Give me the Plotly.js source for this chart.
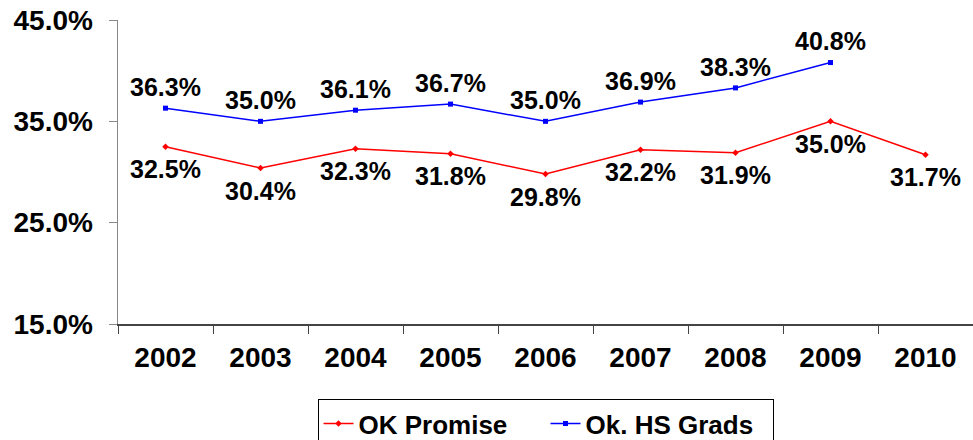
<!DOCTYPE html>
<html>
<head>
<meta charset="utf-8">
<script src="https://cdn.plot.ly/plotly-3.0.1.min.js"></script>
<style>html,body{margin:0;padding:0;background:#fff;}#chart{width:973px;height:440px;}</style>
</head>
<body>
<div id="chart"></div>
<script>
const years = ["2002","2003","2004","2005","2006","2007","2008","2009","2010"];
const okPromise = [32.5, 30.4, 32.3, 31.8, 29.8, 32.2, 31.9, 35.0, 31.7];
const okHSGrads = [36.3, 35.0, 36.1, 36.7, 35.0, 36.9, 38.3, 40.8];
const yTicks = [15, 25, 35, 45];
const yTickLabels = ["15.0%", "25.0%", "35.0%", "45.0%"];

const FONT = "Liberation Sans, Arial, sans-serif";
const hsYears = years.slice(0, okHSGrads.length);

const traces = [
  {
    x: years, y: okPromise, name: "OK Promise", type: "scatter", mode: "lines+markers",
    line: {color: "#ff0000", width: 1.5},
    marker: {color: "#ff0000", size: 5, symbol: "diamond"}
  },
  {
    x: hsYears, y: okHSGrads, name: "Ok. HS Grads", type: "scatter", mode: "lines+markers",
    line: {color: "#0000ff", width: 1.5},
    marker: {color: "#0000ff", size: 5, symbol: "square"}
  },
  {
    x: years, y: okPromise, type: "scatter", mode: "markers+text", showlegend: false, hoverinfo: "skip",
    text: okPromise.map(v => "<b>" + v.toFixed(1) + "%</b>"), textposition: "bottom center",
    marker: {size: 19, color: "rgba(0,0,0,0)"},
    textfont: {family: FONT, size: 25, color: "#000"}
  },
  {
    x: hsYears, y: okHSGrads, type: "scatter", mode: "markers+text", showlegend: false, hoverinfo: "skip",
    text: okHSGrads.map(v => "<b>" + v.toFixed(1) + "%</b>"), textposition: "top center",
    marker: {size: 8, color: "rgba(0,0,0,0)"},
    textfont: {family: FONT, size: 25, color: "#000"}
  }
];

const layout = {
  width: 973, height: 440,
  margin: {l: 118, r: 0, t: 20, b: 116, autoexpand: false},
  paper_bgcolor: "#fff", plot_bgcolor: "#fff",
  showlegend: true,
  font: {family: FONT, color: "#000"},
  xaxis: {
    type: "category", range: [-0.5, 8.5], tickson: "boundaries", automargin: false,
    ticks: "outside", ticklen: 8, tickcolor: "#444", tickwidth: 1,
    showline: true, linecolor: "#444", linewidth: 1.5,
    showgrid: false, zeroline: false, ticklabelstandoff: 8,
    tickfont: {family: FONT, size: 28, color: "#000", weight: "bold"}
  },
  yaxis: {
    range: [15, 45], tickvals: yTicks, ticktext: yTickLabels, automargin: false,
    ticks: "outside", ticklen: 8, tickcolor: "#888", tickwidth: 1,
    showline: true, linecolor: "#888", linewidth: 1.5,
    showgrid: false, zeroline: false, ticklabelstandoff: 10,
    tickfont: {family: FONT, size: 28, color: "#000", weight: "bold"}
  },
  legend: {
    orientation: "h", x: 0.5, xanchor: "center", y: -0.247, yanchor: "top",
    bordercolor: "#000", borderwidth: 1, bgcolor: "#fff",
    entrywidth: 182, entrywidthmode: "pixels",
    font: {family: FONT, size: 26, color: "#000", weight: "bold"}
  }
};

Plotly.newPlot("chart", traces, layout, {displayModeBar: false, staticPlot: true});
</script>
</body>
</html>
